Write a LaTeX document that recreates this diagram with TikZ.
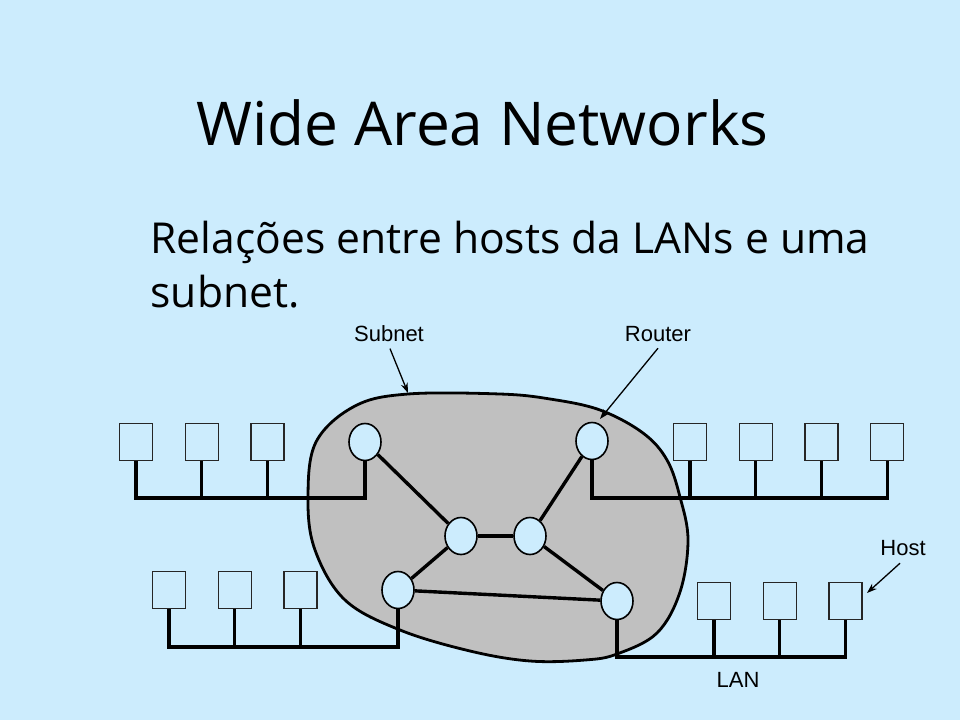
\documentclass[tikz,border=0pt]{standalone}
\usepackage{fontspec}
\setmainfont{Open Sans}
\newfontfamily\labelfont{Liberation Sans}
\usetikzlibrary{arrows.meta,shapes.geometric}
\usetikzlibrary{positioning}
\definecolor{slidebg}{RGB}{204,236,253}
\definecolor{subnetgray}{RGB}{192,192,192}
\tikzset{
    router/.style={
           ellipse,
           draw=black, line width=1.6pt,
           fill=slidebg,
           minimum width=32pt, minimum height=37pt,
           inner sep=0pt,
           },
}
\tikzset{
    host/.style={
           rectangle,
           draw=black!85, line width=1.4pt,
           minimum width=33pt, minimum height=37pt,
           inner sep=0pt,
           },
}
\tikzset{
    bus/.style={line width=3.2pt, line join=miter},
    link/.style={line width=3.4pt},
    tag/.style={font=\labelfont\fontsize{22}{24}\selectfont},
    pointer/.style={line width=1.3pt, -{Stealth[length=10pt,width=7pt]}},
}

\begin{document}
\begin{tikzpicture}[x=1pt,y=-1pt]
\useasboundingbox[fill=slidebg] (0,0) rectangle (960,720);
\node[anchor=base west,font=\fontsize{60.4}{66}\selectfont](title) at (193,145){Wide Area Networks};
\node[anchor=base west,font=\fontsize{42.6}{48}\selectfont](sub1) at (147,253){Relações entre hosts da LANs e uma};
\node[anchor=base west,font=\fontsize{42.6}{48}\selectfont](sub2) at (147,307){subnet.};
% subnet cloud
\draw[line width=2.8pt,fill=subnetgray] plot[smooth cycle,tension=0.6] coordinates {
  (408,394) (500,394) (550,399) (600,410) (643,433) (667,460) (680,497) (688,540)
  (680,592) (657,633) (617,654) (585,660) (530,661) (470,651) (400,630)
  (345,600) (315,550) (308,498) (316,442) (355,406)};
% routers
\node[router](r1) at (365,442){};
\node[router](r2) at (592,441){};
\node[router](r3) at (461,536){};
\node[router](r4) at (530,536){};
\node[router](r5) at (398,590){};
\node[router](r6) at (617,601){};
\draw[link] (r1)--(r3);
\draw[link] (r2)--(r4);
\draw[link] (r3)--(r4);
\draw[link] (r3)--(r5);
\draw[link] (r4)--(r6);
\draw[link] (r5)--(r6);
% hosts top left
\node[host](a1) at (136,442){};
\node[host,right = 31.3pt of a1](a2){};
\node[host,right = 31.3pt of a2](a3){};
% hosts bottom left
\node[host](b1) at (169,590){};
\node[host,right = 31.3pt of b1](b2){};
\node[host,right = 31.3pt of b2](b3){};
% hosts top right
\node[host](c1) at (690,442){};
\node[host,right = 31.3pt of c1](c2){};
\node[host,right = 31.3pt of c2](c3){};
\node[host,right = 31.3pt of c3](c4){};
% hosts bottom right
\node[host](d1) at (714,601){};
\node[host,right = 31.3pt of d1](d2){};
\node[host,right = 31.3pt of d2](d3){};
% LAN buses
\draw[bus] (a1.south) |- (r1.south |- 0,498) -- (r1.south);
\draw[bus] (a2.south) -- (a2.south |- 0,498);
\draw[bus] (a3.south) -- (a3.south |- 0,498);
\draw[bus] (b1.south) |- (r5.south |- 0,647) -- (r5.south);
\draw[bus] (b2.south) -- (b2.south |- 0,647);
\draw[bus] (b3.south) -- (b3.south |- 0,647);
\draw[bus] (r2.south) |- (c4.south |- 0,498) -- (c4.south);
\draw[bus] (c1.south) -- (c1.south |- 0,498);
\draw[bus] (c2.south) -- (c2.south |- 0,498);
\draw[bus] (c3.south) -- (c3.south |- 0,498);
\draw[bus] (r6.south) |- (d3.south |- 0,657) -- (d3.south);
\draw[bus] (d1.south) -- (d1.south |- 0,657);
\draw[bus] (d2.south) -- (d2.south |- 0,657);
% labels
\node[tag](subnet) at (389,334){Subnet};
\node[tag](router) at (658,334){Router};
\node[tag](host) at (903,548){Host};
\node[tag](lan) at (738,680){LAN};
\coordinate (subnettip) at (408,393);
\coordinate (routertip) at (600,419);
\coordinate (hosttip) at (867,593);
\draw[pointer] (subnet.south) ++(1,3) -- (subnettip);
\draw[pointer] (router.south) ++(0,3) -- (routertip);
\draw[pointer] (host.south) ++(-3,4) -- (hosttip);
\end{tikzpicture}
\end{document}
